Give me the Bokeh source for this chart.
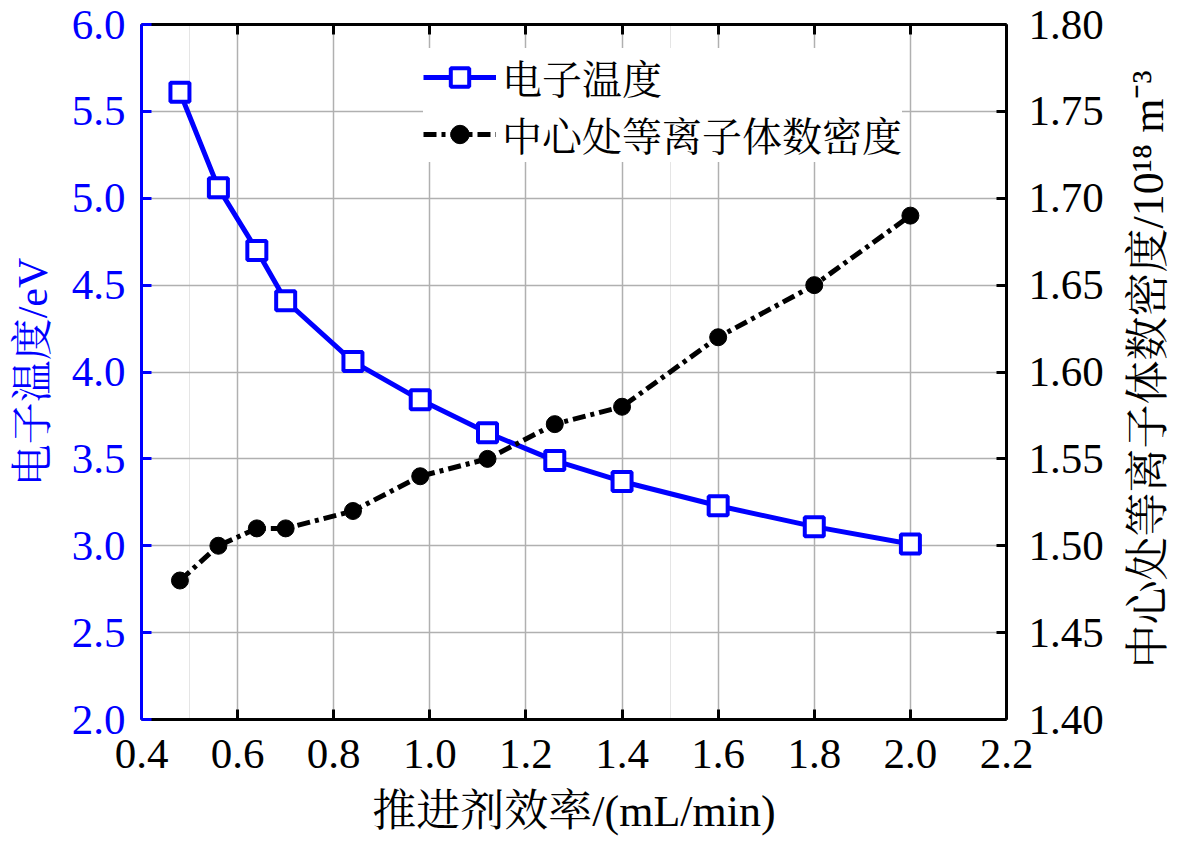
import math
from bokeh.plotting import figure
from bokeh.layouts import row
from bokeh.models import (LinearAxis, Range1d, Legend, LegendItem, FixedTicker, Grid,
                          PrintfTickFormatter, CustomJSTickFormatter, Label)
from bokeh.embed import file_html
from bokeh.resources import INLINE

# ---- data ----
flow = [0.48, 0.56, 0.64, 0.70, 0.84, 0.98, 1.12, 1.26, 1.40, 1.60, 1.80, 2.00]
temp_ev = [5.61, 5.06, 4.70, 4.41, 4.06, 3.84, 3.65, 3.49, 3.37, 3.23, 3.11, 3.01]
density = [1.48, 1.50, 1.51, 1.51, 1.52, 1.54, 1.55, 1.57, 1.58, 1.62, 1.65, 1.69]

x_ticks = [0.4, 0.6, 0.8, 1.0, 1.2, 1.4, 1.6, 1.8, 2.0, 2.2]
left_ticks = [2.0, 2.5, 3.0, 3.5, 4.0, 4.5, 5.0, 5.5, 6.0]
right_ticks = [1.40, 1.45, 1.50, 1.55, 1.60, 1.65, 1.70, 1.75, 1.80]

x_title = "推进剂效率/(mL/min)"
left_title = "电子温度/eV"
right_title = "中心处等离子体数密度/10¹⁸ m⁻³"
label_temp = "电子温度"
label_dens = "中心处等离子体数密度"

FONT = "Liberation Serif, Noto Serif CJK SC, Noto Sans CJK SC"
BLUE = "#0000ff"
GRID = "#b0b0b0"

FW, FH = 865, 695
TOP = 24
p = figure(frame_width=FW, frame_height=FH, output_backend="svg", toolbar_location=None,
           x_range=Range1d(0.4, 2.2), y_range=Range1d(2.0, 6.0),
           min_border_left=141, min_border_right=112, min_border_top=TOP, min_border_bottom=10,
           x_axis_location=None, y_axis_location=None)
p.extra_y_ranges = {"dens": Range1d(1.40, 1.80)}
p.outline_line_color = None
p.background_fill_color = "white"


def style(ax, color, ticks, fmt, title_size="40px"):
    ax.ticker = FixedTicker(ticks=ticks)
    ax.formatter = fmt
    ax.axis_line_color = color
    ax.axis_line_width = 3
    ax.major_tick_line_color = color
    ax.major_tick_line_width = 3
    ax.major_tick_in = 10
    ax.major_tick_out = 0
    ax.minor_tick_line_color = None
    ax.major_label_text_color = color
    ax.major_label_text_font = FONT
    ax.major_label_text_font_size = "43px"
    ax.axis_label_text_color = color
    ax.axis_label_text_font = FONT
    ax.axis_label_text_font_size = title_size
    ax.axis_label_text_font_style = "normal"


xb = LinearAxis()
style(xb, "black", x_ticks, PrintfTickFormatter(format="%.1f"), "44px")
xb.axis_label = x_title
xb.major_label_standoff = 20
xb.axis_label_standoff = 16
p.add_layout(xb, "below")

xt = LinearAxis()
style(xt, "black", x_ticks, CustomJSTickFormatter(code="return ''"))
xt.major_label_standoff = 0
p.add_layout(xt, "above")

yl = LinearAxis()
style(yl, BLUE, left_ticks, PrintfTickFormatter(format="%.1f"), "42px")
yl.axis_label = left_title
yl.major_label_standoff = 16
yl.axis_label_standoff = 13
p.add_layout(yl, "left")

yr = LinearAxis(y_range_name="dens")
style(yr, "black", right_ticks, PrintfTickFormatter(format="%.2f"))
yr.major_label_standoff = 22
p.add_layout(yr, "right")

# grid
p.add_layout(Grid(dimension=0, ticker=FixedTicker(ticks=x_ticks[1:-1]),
                  grid_line_color=GRID, grid_line_width=1.5))
p.add_layout(Grid(dimension=1, ticker=FixedTicker(ticks=left_ticks[1:-1]),
                  grid_line_color=GRID, grid_line_width=1.5))

# series
l1 = p.line(flow, temp_ev, line_color=BLUE, line_width=5)
s1 = p.scatter(flow, temp_ev, marker="square", size=19, fill_color="white",
               line_color=BLUE, line_width=4)
l2 = p.line(flow, density, y_range_name="dens", line_color="black", line_width=5,
            line_dash="13 5 4 5")
s2 = p.scatter(flow, density, y_range_name="dens", marker="circle", size=17,
               fill_color="black", line_color="black")

legend = Legend(items=[LegendItem(label=label_temp, renderers=[l1, s1]),
                       LegendItem(label=label_dens, renderers=[l2, s2])],
                location=(282, 557))
legend.label_text_font = FONT
legend.label_text_font_size = "40px"
legend.label_text_color = "black"
legend.glyph_width = 73
legend.glyph_height = 46
legend.label_height = 46
legend.spacing = 0
legend.padding = 8
legend.label_standoff = 6
legend.border_line_color = None
legend.background_fill_color = "white"
legend.background_fill_alpha = 1.0
p.add_layout(legend, "center")

# narrow strip holding the right axis title, reading bottom-to-top
SW, SH = 63, 843
strip = figure(width=SW, height=SH, output_backend="svg", toolbar_location=None,
               x_range=Range1d(0, 1), y_range=Range1d(0, 1), min_border=0,
               x_axis_location=None, y_axis_location=None)
strip.outline_line_color = None
strip.grid.visible = False
rt = Label(x=30, y=355, x_units="screen", y_units="screen", text=right_title,
           angle=math.pi / 2, text_align="center", text_baseline="middle",
           text_font=FONT, text_font_size="44px", text_color="black")
strip.add_layout(rt)

layout = row(p, strip, spacing=0)
open("out.html", "w").write(file_html(layout, INLINE))
